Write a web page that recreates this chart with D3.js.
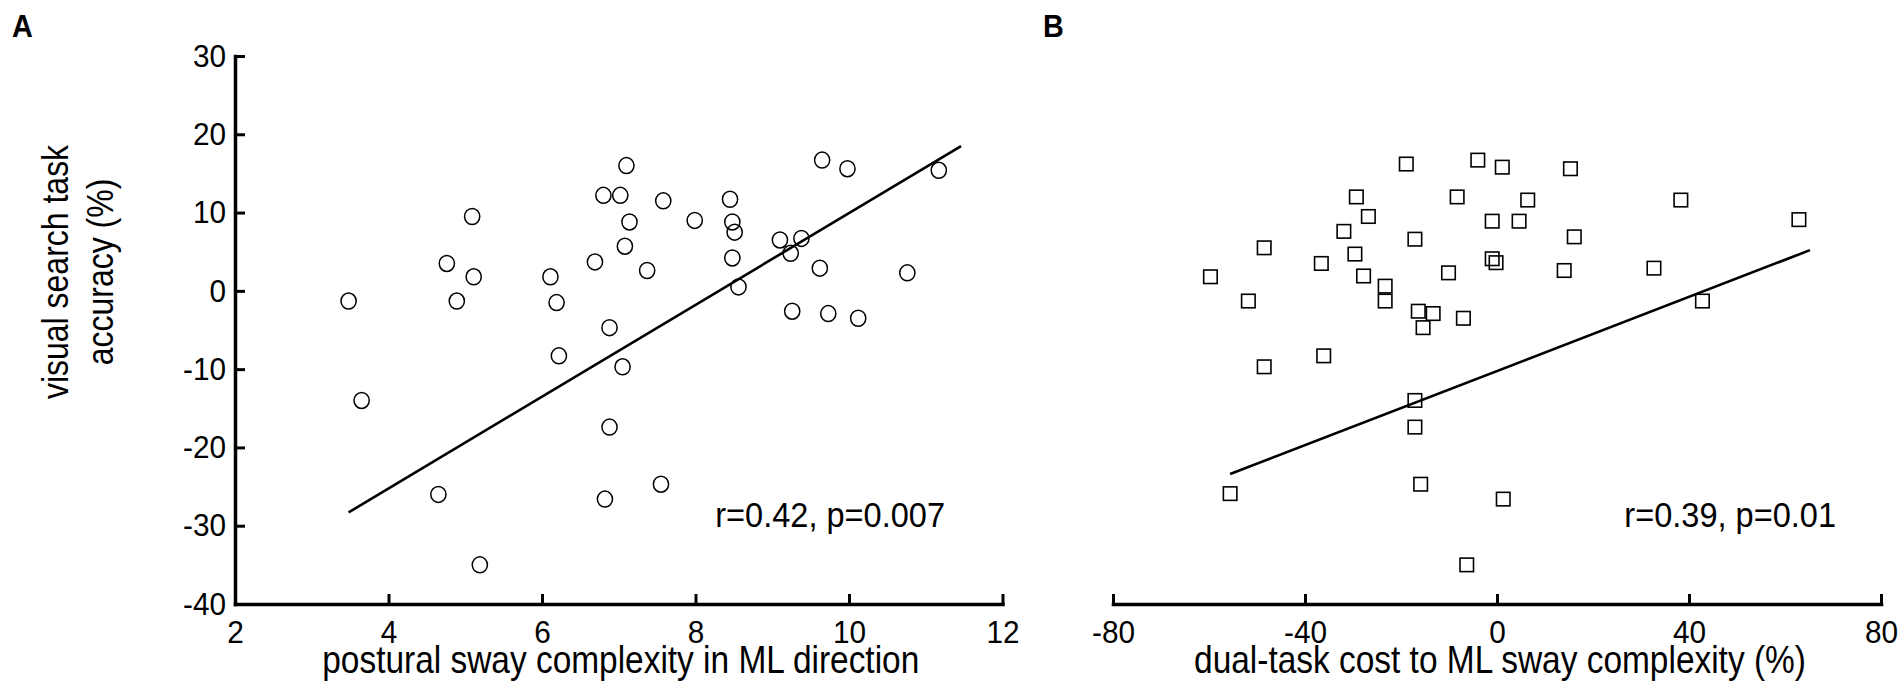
<!DOCTYPE html>
<html>
<head>
<meta charset="utf-8">
<script src="https://cdn.jsdelivr.net/npm/d3@7/dist/d3.min.js"></script>
<style>
  html, body { margin: 0; padding: 0; background: #fff; }
  svg { display: block; }
  text { font-family: Arial, "Liberation Sans", sans-serif; fill: #000; }
</style>
</head>
<body>
<svg id="chart" width="1904" height="692"></svg>
<script>
// ---- Data ----
// Panel A: postural sway complexity (ML) vs visual search task accuracy
const swayComplexity = [3.48, 3.65, 4.65, 4.76, 4.89, 5.09, 5.11, 5.19, 6.11, 6.19, 6.22, 6.69, 6.80, 6.88, 6.88, 6.82, 7.02, 7.10, 7.08, 7.14, 7.05, 7.37, 7.58, 7.55, 7.99, 8.45, 8.48, 8.51, 8.48, 8.56, 9.10, 9.24, 9.26, 9.38, 9.62, 9.65, 9.73, 9.98, 10.12, 10.76, 11.17];
const accuracyA =      [-1.3, -14.0, -26.0, 3.5, -1.3, 9.5, 1.8, -35.0, 1.8, -1.5, -8.3, 3.7, 12.2, -4.7, -17.4, -26.6, 12.2, 16.0, 5.7, 8.8, -9.7, 2.6, 11.5, -24.7, 9.0, 11.7, 8.8, 7.5, 4.2, 0.5, 6.5, 4.8, -2.6, 6.7, 2.9, 16.7, -2.9, 15.6, -3.5, 2.3, 15.4];
// Panel B: dual-task cost to ML sway complexity vs visual search task accuracy
const dualTaskCost = [-59.7, -51.8, -55.6, -48.5, -48.5, -36.6, -36.1, -31.9, -29.3, -29.6, -27.8, -26.8, -23.3, -23.3, -18.9, -17.1, -17.1, -17.1, -16.4, -15.4, -15.9, -13.3, -10.1, -8.3, -7.0, -6.3, -4.0, -1.0, -1.0, -0.2, 1.1, 1.3, 4.6, 6.4, 14.0, 15.3, 16.1, 32.7, 38.3, 42.8, 62.9];
const accuracyB =    [1.8, -1.3, -25.9, 5.5, -9.7, 3.5, -8.3, 7.6, 12.0, 4.7, 1.9, 9.5, 0.6, -1.3, 16.2, 6.6, -14.0, -17.4, -2.6, -4.7, -24.7, -2.9, 2.3, 12.0, -3.5, -35.0, 16.7, 8.9, 4.1, 3.6, 15.8, -26.6, 8.9, 11.6, 2.6, 15.6, 6.9, 2.9, 11.6, -1.3, 9.1];
// Fitted regression line endpoints [x, y]
const fitA = [[3.48, -28.3], [11.46, 18.5]];
const fitB = [[-55.6, -23.4], [65.2, 5.2]];
// Axis ticks and labels
const ticksY  = [-40, -30, -20, -10, 0, 10, 20, 30];
const ticksXA = [2, 4, 6, 8, 10, 12];
const ticksXB = [-80, -40, 0, 40, 80];
const statA = "r=0.42, p=0.007";
const statB = "r=0.39, p=0.01";
const titleXA = "postural sway complexity in ML direction";
const titleXB = "dual-task cost to ML sway complexity (%)";
const titleY = ["visual search task", "accuracy (%)"];
const panelLabels = ["A", "B"];

// ---- Layout ----
const SX = 0.93; // horizontal glyph compression seen in the reference
const svg = d3.select("#chart");
svg.append("rect").attr("width", 1904).attr("height", 692).attr("fill", "#fff");

const y = d3.scaleLinear().domain([-40, 30]).range([604, 56]);
const xA = d3.scaleLinear().domain([2, 12]).range([235, 1002.5]);
const xB = d3.scaleLinear().domain([-80, 80]).range([1113, 1881]);
const fmt = d => String(d);

function styleAxis(g) {
  g.select(".domain").attr("stroke", "#000").attr("stroke-width", 3.5).attr("stroke-linecap", "square");
  g.selectAll(".tick line").attr("stroke", "#000").attr("stroke-width", 3);
  g.selectAll(".tick text")
    .attr("font-size", 32)
    .attr("font-family", "Arial, 'Liberation Sans', sans-serif")
    .each(function () {
      const t = d3.select(this);
      const tx = +t.attr("x") || 0, tyy = +t.attr("y") || 0;
      t.attr("x", 0).attr("y", 0).attr("transform", `translate(${tx},${tyy}) scale(${SX},1)`);
    });
}

// Panel A axes
const gyA = svg.append("g").attr("transform", `translate(${xA(2)},0)`)
  .call(d3.axisLeft(y).tickValues(ticksY).tickSize(-10).tickSizeOuter(0).tickPadding(9).tickFormat(fmt));
styleAxis(gyA);
const gxA = svg.append("g").attr("transform", `translate(0,${y(-40)})`)
  .call(d3.axisBottom(xA).tickValues(ticksXA).tickSize(-10).tickSizeOuter(0).tickPadding(16).tickFormat(fmt));
styleAxis(gxA);

// Panel B axis
const gxB = svg.append("g").attr("transform", `translate(0,${y(-40)})`)
  .call(d3.axisBottom(xB).tickValues(ticksXB).tickSize(-10).tickSizeOuter(0).tickPadding(16).tickFormat(fmt));
styleAxis(gxB);

// Fit lines
const lineA = d3.line().x(d => xA(d[0])).y(d => y(d[1]));
const lineB = d3.line().x(d => xB(d[0])).y(d => y(d[1]));
svg.append("path").attr("d", lineA(fitA)).attr("fill", "none").attr("stroke", "#000").attr("stroke-width", 2.6);
svg.append("path").attr("d", lineB(fitB)).attr("fill", "none").attr("stroke", "#000").attr("stroke-width", 2.6);

// Points A (circles)
const ptsA = swayComplexity.map((v, i) => [v, accuracyA[i]]);
svg.append("g").selectAll("ellipse").data(ptsA).join("ellipse")
  .attr("cx", d => xA(d[0])).attr("cy", d => y(d[1])).attr("rx", 7.6).attr("ry", 8)
  .attr("fill", "none").attr("stroke", "#000").attr("stroke-width", 1.5);

// Points B (squares)
const ptsB = dualTaskCost.map((v, i) => [v, accuracyB[i]]);
const sq = 13.5;
svg.append("g").selectAll("rect").data(ptsB).join("rect")
  .attr("x", d => xB(d[0]) - sq / 2).attr("y", d => y(d[1]) - sq / 2)
  .attr("width", sq).attr("height", sq)
  .attr("fill", "none").attr("stroke", "#000").attr("stroke-width", 1.6);

// helper for horizontally compressed text
function label(x, yy, txt, size, anchor, weight, sx) {
  return svg.append("text")
    .attr("transform", `translate(${x},${yy}) scale(${sx || SX},1)`)
    .attr("text-anchor", anchor || "start")
    .attr("font-size", size)
    .attr("font-weight", weight || "normal")
    .text(txt);
}

// Stats
label(945, 527, statA, 35, "end");
label(1836, 527, statB, 35, "end");

// Axis titles
label((xA(2) + xA(12)) / 2 + 2, 673, titleXA, 38, "middle", "normal", 0.88);
label((xB(-80) + xB(80)) / 2 + 3, 673, titleXB, 38, "middle", "normal", 0.88);
const ty = svg.append("text").attr("transform", "translate(68,272) rotate(-90) scale(1,1.15)")
  .attr("text-anchor", "middle").attr("font-size", 32);
ty.append("tspan").attr("x", 0).attr("y", 0).text(titleY[0]);
ty.append("tspan").attr("x", 0).attr("y", 39).text(titleY[1]);

// Panel labels
label(12, 37, panelLabels[0], 31, "start", "bold");
label(1043, 37, panelLabels[1], 31, "start", "bold");
</script>
</body>
</html>
